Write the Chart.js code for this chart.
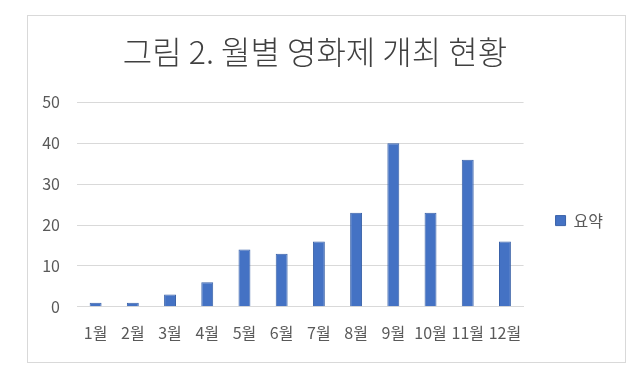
<!DOCTYPE html>
<html>
<head>
<meta charset="utf-8">
<script src="https://cdn.jsdelivr.net/npm/chart.js@4.4.1/dist/chart.umd.min.js"></script>
<style>
    body { margin: 0; background: #ffffff; }
    #box {
        position: absolute;
        left: 27px;
        top: 15px;
        width: 597px;
        height: 346px;
        border: 1px solid #d9d9d9;
    }
</style>
</head>
<body>
<div id="box"><canvas id="chart_1"></canvas></div>
<script>
"use strict";

// Chart data
const months = ['1월', '2월', '3월', '4월', '5월', '6월', '7월', '8월', '9월', '10월', '11월', '12월'];
const summaryValues = [1, 1, 3, 6, 14, 13, 16, 23, 40, 23, 36, 16];
const yTicks = [0, 10, 20, 30, 40, 50];

var fontFamily = '"Noto Sans CJK KR", "Noto Sans", sans-serif';
var labelColor = '#595959';
var borderColor = '#d9d9d9';

var ctx = document.getElementById('chart_1');

var chart = new Chart(ctx, {
    type: 'bar',
    data: {
        labels: months,
        datasets: [
            {
                label: '요약',
                data: summaryValues,
                backgroundColor: '#4472c4',
                borderColor: '#3a62a8',
                borderWidth: 1,
                barPercentage: 0.32,
                categoryPercentage: 1
            }
        ]
    },
    options: {
        responsive: true,
        maintainAspectRatio: false,
        animation: false,
        layout: {
            // negative left padding only moves the title centre a little left
            padding: { left: -11, right: 12, top: 0, bottom: 2 }
        },
        plugins: {
            title: {
                display: true,
                text: '그림 2. 월별 영화제 개최 현황',
                color: '#404040',
                font: { family: fontFamily, size: 32, weight: 300 },
                padding: { top: 17, bottom: 31 }
            },
            legend: {
                position: 'right',
                // empty title only pushes the legend item down a bit
                title: {
                    display: true,
                    text: '',
                    font: { size: 16 },
                    padding: { top: 23, bottom: 23 }
                },
                labels: {
                    boxWidth: 10,
                    boxHeight: 10,
                    padding: 32,
                    color: labelColor,
                    font: { family: fontFamily, size: 16 }
                }
            },
            tooltip: { enabled: false }
        },
        scales: {
            x: {
                grid: { display: false, drawTicks: false },
                border: { display: true, color: borderColor },
                ticks: {
                    color: labelColor,
                    padding: 17,
                    maxRotation: 0,
                    autoSkip: false,
                    font: { family: fontFamily, size: 16 }
                }
            },
            y: {
                min: 0,
                max: 50,
                afterFit: function (scale) {
                    scale.width = 60;
                },
                afterBuildTicks: function (scale) {
                    scale.ticks = yTicks.map(function (v) { return { value: v }; });
                },
                grid: { color: borderColor, drawTicks: false },
                border: { display: false },
                ticks: {
                    color: labelColor,
                    padding: 17,
                    font: { family: fontFamily, size: 16 }
                }
            }
        }
    }
});
</script>
</body>
</html>
